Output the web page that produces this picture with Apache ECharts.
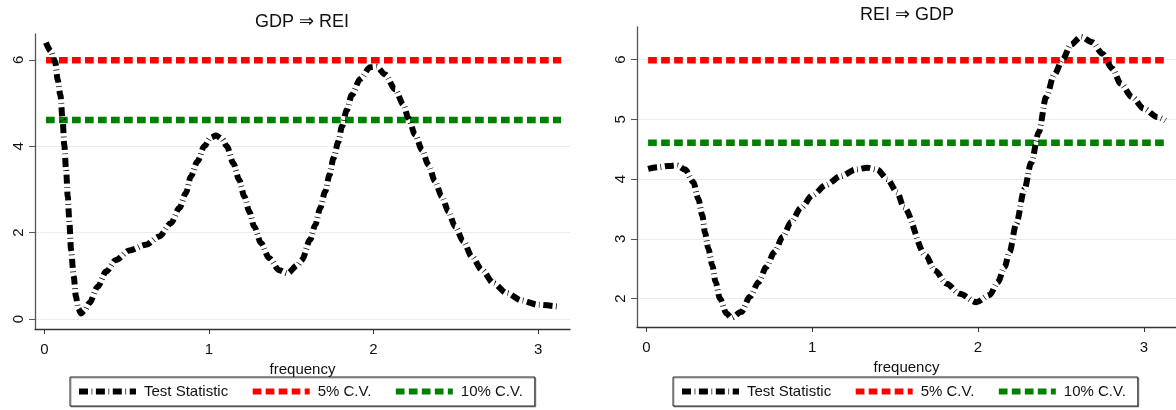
<!DOCTYPE html>
<html>
<head>
<meta charset="utf-8">
<script src="https://cdn.jsdelivr.net/npm/echarts@6/dist/echarts.min.js"></script>
<style>
html,body{margin:0;padding:0;background:#fff;}
#chart{width:1176px;height:410px;}
</style>
</head>
<body>
<div id="chart"></div>
<script>
// ---------- data ----------
const titles = ['GDP \u21D2 REI', 'REI \u21D2 GDP'];
const seriesNames = ['Test Statistic', '5% C.V.', '10% C.V.'];
const xTicks = [0, 1, 2, 3];
const yTicksLeft = [0, 2, 4, 6];
const yTicksRight = [2, 3, 4, 5, 6];

const freqLeft = [0.01,0.04,0.065,0.081,0.097,0.111,0.121,0.132,0.142,0.152,0.162,0.178,0.192,0.205,0.223,0.245,0.273,0.324,0.375,0.435,0.516,0.617,0.698,0.769,0.82,0.86,0.89,0.93,0.972,1.01,1.043,1.08,1.109,1.148,1.184,1.215,1.245,1.275,1.316,1.366,1.427,1.478,1.538,1.565,1.615,1.646,1.676,1.706,1.733,1.757,1.787,1.808,1.838,1.868,1.919,1.98,2.02,2.071,2.131,2.182,2.212,2.253,2.294,2.334,2.374,2.415,2.455,2.496,2.546,2.597,2.658,2.729,2.81,2.9,3.0,3.12];
const statLeft = [6.4,6.2,5.96,5.54,5.19,4.61,4.03,3.46,2.84,2.23,1.6,0.99,0.52,0.25,0.13,0.2,0.37,0.75,1.1,1.37,1.59,1.72,1.91,2.22,2.57,2.92,3.3,3.65,4.0,4.2,4.25,4.17,4.0,3.61,3.22,2.84,2.49,2.14,1.76,1.41,1.13,1.06,1.25,1.37,1.84,2.18,2.57,2.95,3.34,3.73,4.11,4.46,4.84,5.19,5.56,5.83,5.84,5.66,5.32,4.96,4.65,4.27,3.92,3.57,3.19,2.84,2.49,2.14,1.8,1.45,1.14,0.83,0.6,0.43,0.33,0.29];

const freqRight = [0.01,0.07,0.134,0.184,0.233,0.283,0.313,0.337,0.353,0.373,0.397,0.417,0.443,0.483,0.513,0.573,0.623,0.677,0.723,0.772,0.822,0.872,0.932,1.002,1.082,1.172,1.262,1.332,1.392,1.452,1.512,1.552,1.685,1.74,1.81,1.89,1.99,2.07,2.12,2.16,2.19,2.23,2.28,2.32,2.367,2.41,2.46,2.51,2.56,2.62,2.69,2.75,2.81,2.86,2.93,3.0,3.08,3.13];
const statRight = [4.17,4.2,4.22,4.23,4.16,3.95,3.67,3.39,3.11,2.84,2.56,2.28,2.0,1.75,1.68,1.78,2.03,2.28,2.53,2.78,3.03,3.28,3.52,3.73,3.9,4.05,4.16,4.19,4.16,4.0,3.78,3.53,2.72,2.47,2.25,2.08,1.94,2.06,2.28,2.53,2.78,3.25,3.83,4.27,4.79,5.37,5.75,6.0,6.25,6.38,6.29,6.1,5.85,5.6,5.37,5.18,5.04,4.98];

const cvFreq = [0.01, 3.14];
const cv5 = 5.99;
const cv10 = 4.61;

// ---------- chart ----------
const FONT = "'Liberation Sans', Arial, 'DejaVu Sans', sans-serif";
const chart = echarts.init(document.getElementById('chart'), null, {renderer: 'canvas'});

function pairs(xs, ys) { return xs.map((x, i) => [x, ys[i]]); }
function flat(xs, v) { return xs.map(x => [x, v]); }

const statStyle = {color: '#000', width: 6, type: [9, 3.6, 0.7, 3.6], cap: 'butt'};
const cvStyle = (c) => ({color: c, width: 6.5, type: [8.7, 4.3], cap: 'butt'});

function xAxisFor(gi) {
  return {
    gridIndex: gi, type: 'value', min: -0.057, max: 3.194,
    name: 'frequency', nameLocation: 'middle', nameGap: 26,
    nameTextStyle: {fontFamily: FONT, fontSize: 15, color: '#111'},
    axisLine: {show: true, onZero: false, lineStyle: {color: '#333', width: 1.3}},
    axisTick: {show: true, length: 5, lineStyle: {color: '#333'}, customValues: xTicks},
    axisLabel: {fontFamily: FONT, fontSize: 15, color: '#111', margin: 13, customValues: xTicks},
    splitLine: {show: false}
  };
}
function yAxisFor(gi, mn, mx, ticks) {
  return {
    gridIndex: gi, type: 'value', min: mn, max: mx,
    axisLine: {show: true, onZero: false, lineStyle: {color: '#555', width: 1.3}},
    axisTick: {show: true, length: 6, lineStyle: {color: '#555'}, customValues: ticks},
    axisLabel: {fontFamily: FONT, fontSize: 15, color: '#111', rotate: 90, margin: 9, customValues: ticks},
    splitLine: {show: true, lineStyle: {color: '#e6eef0', width: 1}}
  };
}
function seriesFor(gi, fx, fy) {
  return [
    {name: seriesNames[0], type: 'line', xAxisIndex: gi, yAxisIndex: gi, data: pairs(fx, fy),
     symbol: 'none', smooth: 0.3, smoothMonotone: 'x', lineStyle: statStyle, itemStyle: {color: '#000'}, silent: true, z: 4},
    {name: seriesNames[1], type: 'line', xAxisIndex: gi, yAxisIndex: gi, data: flat(cvFreq, cv5),
     symbol: 'none', lineStyle: cvStyle('#ff0000'), itemStyle: {color: '#ff0000'}, silent: true, z: 3},
    {name: seriesNames[2], type: 'line', xAxisIndex: gi, yAxisIndex: gi, data: flat(cvFreq, cv10),
     symbol: 'none', lineStyle: cvStyle('#008000'), itemStyle: {color: '#008000'}, silent: true, z: 3}
  ];
}
function legendFor(left) {
  return {
    left: left, top: 377, orient: 'horizontal',
    padding: [7, 12, 7, 6], itemWidth: 57, itemHeight: 8, itemGap: 21.5,
    borderColor: '#222', borderWidth: 1, backgroundColor: '#fff',
    shadowColor: 'rgba(0,0,0,0.35)', shadowOffsetX: 1, shadowOffsetY: 1, shadowBlur: 0,
    selectedMode: false,
    lineStyle: {width: 6},
    itemStyle: {opacity: 0},
    textStyle: {fontFamily: FONT, fontSize: 15, color: '#111', padding: [0, 0, 0, 3]},
    data: seriesNames.slice()
  };
}

chart.setOption({
  animation: false,
  backgroundColor: '#fff',
  title: [
    {text: titles[0], left: 302, top: 13, textAlign: 'center', padding: 0,
     textStyle: {fontFamily: FONT, fontSize: 18, fontWeight: 'normal', color: '#111'}},
    {text: titles[1], left: 907, top: 6, textAlign: 'center', padding: 0,
     textStyle: {fontFamily: FONT, fontSize: 18, fontWeight: 'normal', color: '#111'}}
  ],
  grid: [
    {left: 35, top: 34, width: 535, height: 295},
    {left: 637, top: 27, width: 544, height: 300}
  ],
  xAxis: [xAxisFor(0), xAxisFor(1)],
  yAxis: [yAxisFor(0, -0.23, 6.6, yTicksLeft), yAxisFor(1, 1.525, 6.546, yTicksRight)],
  legend: [legendFor(70), legendFor(673)],
  series: [...seriesFor(0, freqLeft, statLeft), ...seriesFor(1, freqRight, statRight)]
});
</script>
</body>
</html>
